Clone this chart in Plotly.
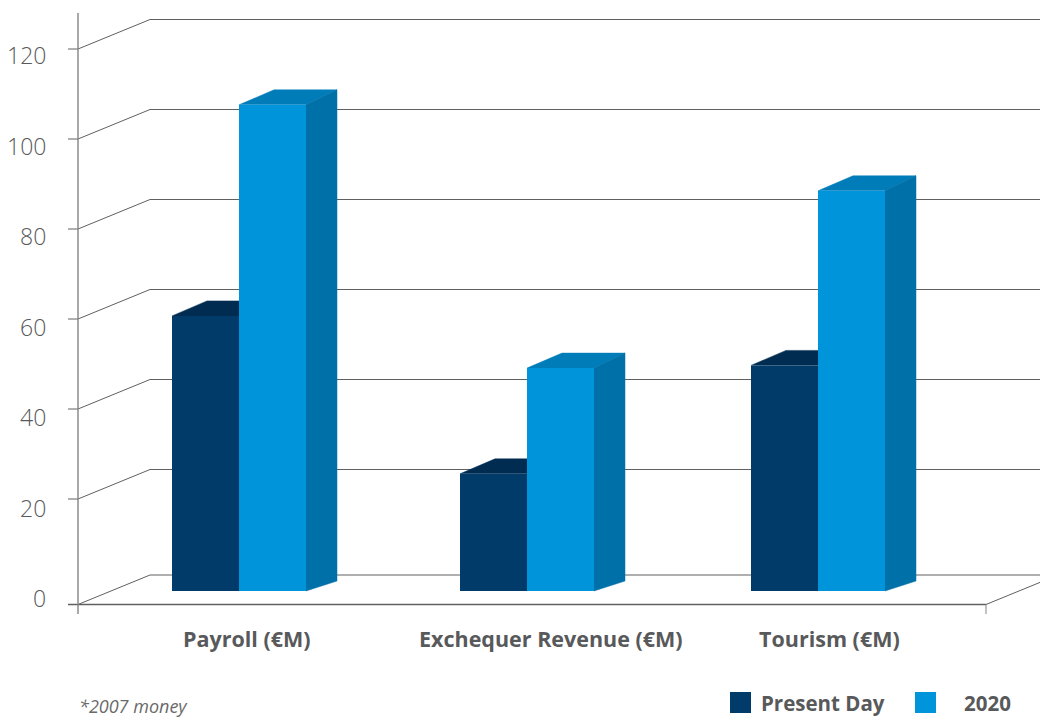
import plotly.graph_objects as go

# ---- data ----
categories = ["Payroll (€M)", "Exchequer Revenue (€M)", "Tourism (€M)"]
present_day = [57.8, 22.7, 46.8]
year_2020 = [104.7, 46.2, 85.6]
tick_values = [0, 20, 40, 60, 80, 100, 120]
series_names = ["Present Day", "2020"]

# ---- scale of the picture (pixels per axis unit) ----
W, H = 1040, 717
PX_X = 289.5          # pixels between categories
X0_PX = 239           # pixel of category 0
PX_Y = 4.5            # pixels per value unit
Y0_PX = 589           # pixel of linear value 0


def ux(px):
    return (px - X0_PX) / PX_X


def uy(px):
    return (Y0_PX - px) / PX_Y


def dx(px):
    return px / PX_X


def dy(px):
    return px / PX_Y


DARK, DARK_TOP = "#003b69", "#002c52"
BLUE, BLUE_TOP, BLUE_SIDE = "#0095da", "#007db9", "#0070a8"
GRID = "#606060"
AXIS = "#858585"
TEXT = "#58595b"
FONT = "Open Sans"

FLOOR = uy(604.5)        # axis "0" sits below the linear scale in the source
BAR_BASE = uy(591)
BAR_LIFT = dy(13)        # bars stand 13 px in front of the axis plane
BAR_W = dx(67)
DEPTH_X = dx(31)
DEPTH_LEFT = dx(35)
DEPTH_Y = dy(15)
SIDE_BOTTOM = dy(10)
WALL_X = dx(72)
WALL_Y = dy(29.5)
AX_X = ux(78)
RIGHT_X = ux(1040)
END_X = ux(986)
CAT_X = [ux(239), ux(527), ux(818)]   # seam between each category's two bars

fig = go.Figure()


def line(xs, ys, color=GRID, width=1):
    fig.add_trace(go.Scatter(x=xs, y=ys, mode="lines", showlegend=False, hoverinfo="skip",
                             line=dict(color=color, width=width)))


def poly(xs, ys, color):
    fig.add_trace(go.Scatter(x=xs, y=ys, mode="lines", fill="toself", fillcolor=color,
                             showlegend=False, hoverinfo="skip", line=dict(color=color, width=0.5)))


# walls / gridlines
for v in tick_values:
    level = FLOOR if v == 0 else v
    line([AX_X, AX_X + WALL_X, RIGHT_X], [level, level + WALL_Y, level + WALL_Y])
    if v != 0:
        line([ux(68), AX_X], [level, level])

# floor front edge and right edge
line([ux(68), END_X], [FLOOR, FLOOR], width=1.4)
line([END_X, RIGHT_X], [FLOOR, FLOOR + WALL_Y * (RIGHT_X - END_X) / WALL_X])
line([END_X, END_X], [FLOOR, uy(614)], color=AXIS)
line([AX_X, AX_X], [uy(13), uy(614)], color=AXIS, width=1.4)

# 3-D faces
for c, a, b in zip(CAT_X, present_day, year_2020):
    ta = a + BAR_LIFT
    tb = b + BAR_LIFT
    xl = c - BAR_W
    poly([xl, xl + DEPTH_LEFT, c + DEPTH_X, c], [ta, ta + DEPTH_Y, ta + DEPTH_Y, ta], DARK_TOP)
    xr = c + BAR_W
    poly([c, c + DEPTH_LEFT, xr + DEPTH_X, xr], [tb, tb + DEPTH_Y, tb + DEPTH_Y, tb], BLUE_TOP)
    poly([xr, xr + DEPTH_X, xr + DEPTH_X, xr],
         [tb, tb + DEPTH_Y, BAR_BASE + SIDE_BOTTOM, BAR_BASE], BLUE_SIDE)

# front faces on an overlaying pair of axes, so they cover the faces behind them
fig.add_trace(go.Bar(x=CAT_X, y=[v + BAR_LIFT - BAR_BASE for v in present_day], base=BAR_BASE,
                     width=BAR_W, offset=-BAR_W, marker=dict(color=DARK, line=dict(width=0)),
                     name=series_names[0], xaxis="x2", yaxis="y2", showlegend=False))
fig.add_trace(go.Bar(x=CAT_X, y=[v + BAR_LIFT - BAR_BASE for v in year_2020], base=BAR_BASE,
                     width=BAR_W, offset=0, marker=dict(color=BLUE, line=dict(width=0)),
                     name=series_names[1], xaxis="x2", yaxis="y2", showlegend=False))

xr_all = [ux(0), ux(W)]
yr_all = [uy(H), uy(0)]
hidden = dict(visible=False, showgrid=False, zeroline=False, fixedrange=True)
fig.update_layout(
    width=W, height=H, margin=dict(l=0, r=0, t=0, b=0), autosize=False,
    paper_bgcolor="white", plot_bgcolor="white", barmode="overlay", showlegend=False,
    xaxis=dict(range=xr_all, domain=[0, 1], **hidden),
    yaxis=dict(range=yr_all, domain=[0, 1], **hidden),
    xaxis2=dict(range=xr_all, overlaying="x", anchor="y2", **hidden),
    yaxis2=dict(range=yr_all, overlaying="y", anchor="x2", **hidden),
)

# y tick labels
for v in tick_values:
    fig.add_annotation(x=ux(48), y=uy(598 - 4.525 * v), text=str(v), showarrow=False,
                       xanchor="right", yanchor="middle",
                       font=dict(family=FONT, size=23, color="#58595b", weight=300), xref="x", yref="y")

# category labels
for name, px in zip(categories, [246.5, 550.5, 829.5]):
    fig.add_annotation(x=ux(px), y=uy(638.5), text="<b>%s</b>" % name, showarrow=False,
                       xanchor="center", yanchor="middle",
                       font=dict(family=FONT, size=21.5, color=TEXT), xref="x", yref="y")

fig.add_annotation(x=ux(77), y=uy(705.5), text="<i>*2007 money</i>", showarrow=False,
                   xanchor="left", yanchor="middle",
                   font=dict(family=FONT, size=18, color="#6a6a6a"), xref="x", yref="y")

# legend
for name, color, sw, tx in zip(series_names, [DARK, BLUE], [730, 915], [759, 962]):
    fig.add_shape(type="rect", xref="x", yref="y", x0=ux(sw), x1=ux(sw + 21),
                  y0=uy(713), y1=uy(692), fillcolor=color, line=dict(width=0))
    fig.add_annotation(x=ux(tx), y=uy(703), text="<b>%s</b>" % name, showarrow=False,
                       xanchor="left", yanchor="middle",
                       font=dict(family=FONT, size=20.5, color=TEXT), xref="x", yref="y")

fig.write_html("out.html", config=dict(displayModeBar=False),
               post_script="document.body.style.margin='0';document.body.style.overflow='hidden';")
